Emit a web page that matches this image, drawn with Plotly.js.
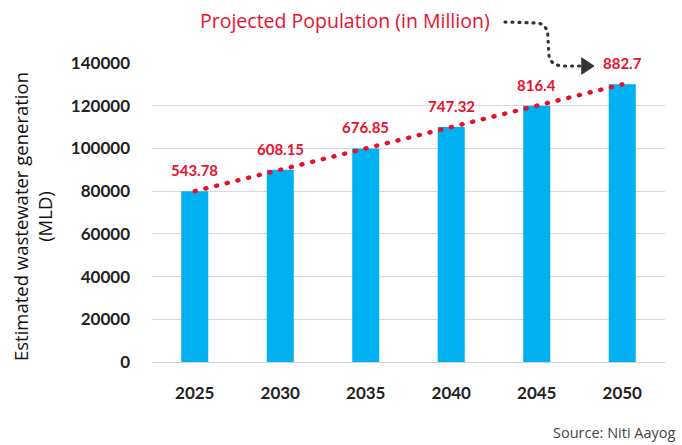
<!DOCTYPE html>
<html>
<head>
<meta charset="utf-8">
<script src="https://cdn.plot.ly/plotly-3.0.1.min.js"></script>
<style>
  html, body { margin: 0; padding: 0; background: #ffffff; }
  #chart { width: 682px; height: 445px; }
  /* round dots for the dotted trend line and the pointer arrow */
  #chart .scatterlayer path.js-line,
  #chart .shapelayer path { stroke-linecap: round; }
</style>
</head>
<body>
<div id="chart"></div>
<script>
// Estimated wastewater generation (MLD) and projected population (million)
const years = ['2025', '2030', '2035', '2040', '2045', '2050'];
const wastewaterMLD = [80000, 90000, 100000, 110000, 120000, 130000];
const populationMillion = ['543.78', '608.15', '676.85', '747.32', '816.4', '882.7'];
const yTicks = [0, 20000, 40000, 60000, 80000, 100000, 120000, 140000];

const RED = '#E8112D';
const BLUE = '#00B0F0';
const FONT = 'Lato, "Open Sans", sans-serif';
const WIDE = '"Open Sans", "Noto Sans", sans-serif';

// plot-area geometry in pixels, used to place the decorative arrow
const M = { l: 152, r: 17, t: 63, b: 83 };
const W = 682, H = 445;
const pw = W - M.l - M.r, ph = H - M.t - M.b;
const px = x => ((x - M.l) / pw).toFixed(4);
const py = y => ((H - M.b - y) / ph).toFixed(4);

const bars = {
  type: 'bar',
  x: years,
  y: wastewaterMLD,
  marker: { color: BLUE },
  hoverinfo: 'x+y'
};

const trend = {
  type: 'scatter',
  mode: 'lines',
  x: years,
  y: wastewaterMLD,
  line: { color: RED, width: 4.5, dash: '1px,10px' },
  hoverinfo: 'skip'
};

// population labels sit above each point; on a category axis the
// annotation x is given as the category index
const popLabels = years.map((yr, i) => ({
  x: i, y: wastewaterMLD[i], xref: 'x', yref: 'y',
  text: populationMillion[i], showarrow: false, yshift: 21,
  font: { family: FONT, size: 15, color: RED, weight: 'bold' }
}));

const arrowPath =
  'M ' + px(505) + ' ' + py(22) +
  ' L ' + px(538) + ' ' + py(23) +
  ' Q ' + px(548) + ' ' + py(25) + ' ' + px(548) + ' ' + py(38) +
  ' L ' + px(549) + ' ' + py(56) +
  ' Q ' + px(551) + ' ' + py(65) + ' ' + px(562) + ' ' + py(66) +
  ' L ' + px(582) + ' ' + py(66);

const arrowHead =
  'M ' + px(582) + ' ' + py(58) +
  ' L ' + px(594) + ' ' + py(66) +
  ' L ' + px(582) + ' ' + py(74) + ' Z';

const layout = {
  width: W, height: H,
  margin: M,
  paper_bgcolor: '#ffffff',
  plot_bgcolor: '#ffffff',
  showlegend: false,
  bargap: 0.684,
  font: { family: FONT, color: '#222222' },
  xaxis: {
    type: 'category',
    categoryarray: years,
    range: [-0.5, years.length - 0.5],
    showgrid: false,
    zeroline: false,
    showline: false,
    ticks: '',
    ticklabelstandoff: 19,
    tickfont: { family: FONT, size: 17, color: '#222222', weight: 'bold' }
  },
  yaxis: {
    range: [0, 140000],
    tickvals: yTicks,
    ticktext: yTicks.map(String),
    showgrid: true,
    gridcolor: '#D9D9D9',
    gridwidth: 1,
    zeroline: true,
    zerolinecolor: '#D0D0D0',
    zerolinewidth: 1,
    showline: false,
    ticks: '',
    ticklabelstandoff: 21,
    tickfont: { family: FONT, size: 17, color: '#222222', weight: 'bold' }
  },
  shapes: [
    { type: 'path', xref: 'paper', yref: 'paper', path: arrowPath,
      line: { color: '#333333', width: 3.2, dash: '1px,6px' } },
    { type: 'path', xref: 'paper', yref: 'paper', path: arrowHead,
      fillcolor: '#333333', line: { color: '#333333', width: 1 } }
  ],
  annotations: popLabels.concat([
    { text: 'Projected Population (in Million)', xref: 'paper', yref: 'paper',
      x: px(345), y: py(20), showarrow: false, xanchor: 'center', yanchor: 'middle',
      font: { family: WIDE, size: 19.5, color: RED } },
    { text: 'Estimated wastewater generation<br>(MLD)', xref: 'paper', yref: 'paper',
      x: px(32), y: py(217), showarrow: false, textangle: -90,
      xanchor: 'center', yanchor: 'middle',
      font: { family: WIDE, size: 18.5, color: '#111111' } },
    { text: 'Source: Niti Aayog', xref: 'paper', yref: 'paper',
      x: px(678), y: py(444), showarrow: false, xanchor: 'right', yanchor: 'bottom',
      font: { family: WIDE, size: 14.5, color: '#444444' } }
  ])
};

Plotly.newPlot('chart', [bars, trend], layout, { staticPlot: true, displayModeBar: false });
</script>
</body>
</html>
